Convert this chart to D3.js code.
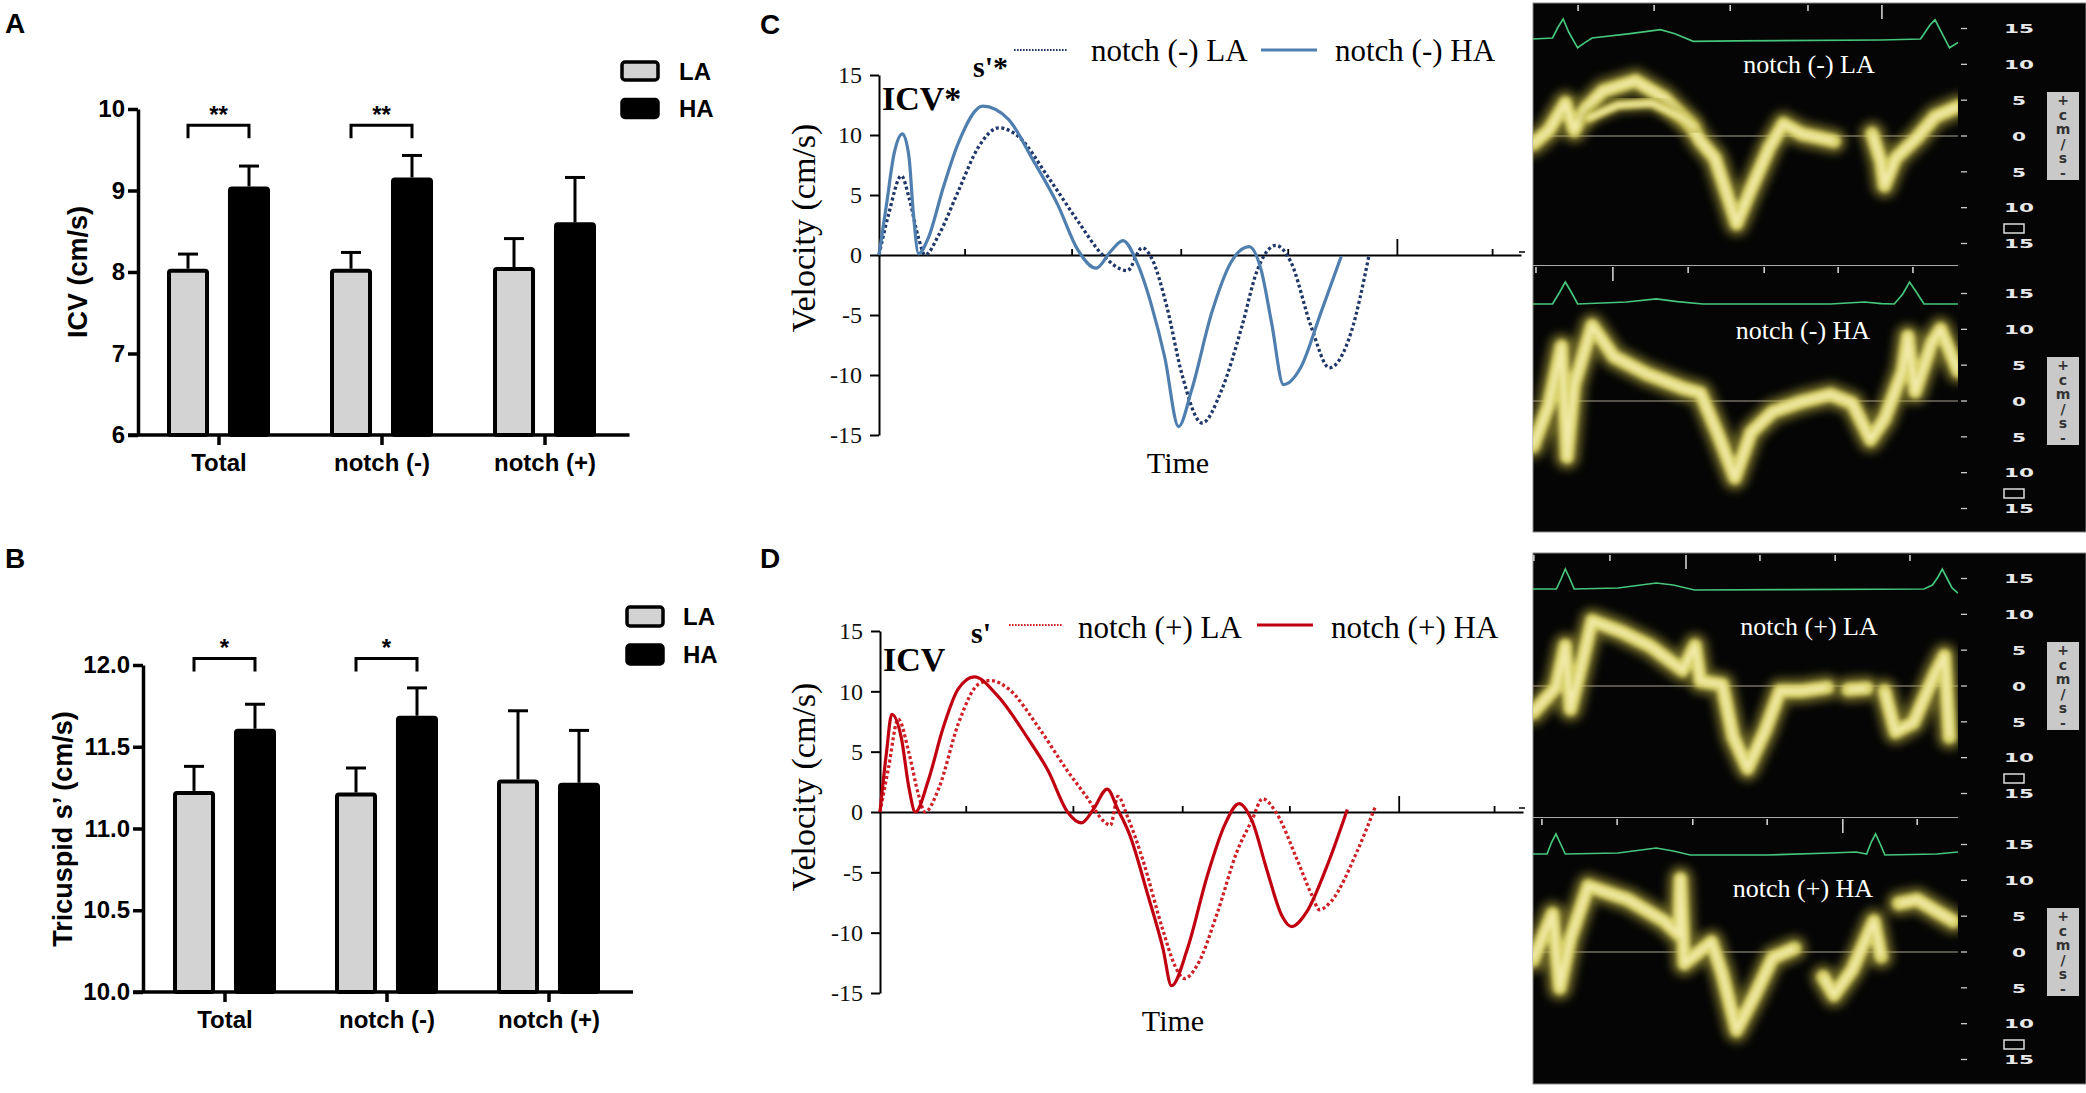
<!DOCTYPE html>
<html><head><meta charset="utf-8">
<script src="https://cdn.jsdelivr.net/npm/d3@7"></script>
<style>
html,body{margin:0;padding:0;background:#fff;}
svg{display:block;}
</style></head>
<body>
<svg id="fig" width="2086" height="1093"></svg>
<script>
// ================= DATA =================
const groups = ["Total", "notch (-)", "notch (+)"];
const seriesNames = ["LA", "HA"];

// Panel A : ICV (cm/s), mean and SEM
const icvTicks = [6, 7, 8, 9, 10];
const icvLA = [8.04, 8.04, 8.06];
const icvLAsem = [0.18, 0.20, 0.35];
const icvHA = [9.05, 9.16, 8.61];
const icvHAsem = [0.25, 0.27, 0.55];
const icvSig = [{group: "Total", label: "**"}, {group: "notch (-)", label: "**"}];
const icvSigLevels = [9.80, 9.64];

// Panel B : Tricuspid s' (cm/s)
const sTicks = [10.0, 10.5, 11.0, 11.5, 12.0];
const sLA = [11.23, 11.22, 11.30];
const sLAsem = [0.15, 0.15, 0.42];
const sHA = [11.61, 11.69, 11.28];
const sHAsem = [0.15, 0.17, 0.32];
const sSig = [{group: "Total", label: "*"}, {group: "notch (-)", label: "*"}];
const sSigLevels = [12.04, 11.96];

// Panels C / D : velocity curves [time, velocity cm/s]
const velTicks = [-15, -10, -5, 0, 5, 10, 15];
const timeTicks = [80, 180, 282, 382, 484, 573];
const timeTallTick = 484;

const negHA = [[0,0],[7,4.2],[14,8.4],[22,10.1],[28,8.2],[32,3.6],[37,0.1],[46,1.4],[60,5.6],[74,9.3],[97,12.4],[121,11.3],[144,7.9],[167,4.2],[186,0.4],[203,-1.1],[216,0.25],[228,1.2],[241,-0.6],[255,-4.3],[267,-8.5],[280,-14.3],[292,-11.3],[311,-4.8],[329,-0.6],[346,0.7],[357,-1.2],[367,-5.7],[378,-10.8],[394,-9.4],[413,-4.8],[432,-0.1]];
const negLA = [[0,0],[9,3.4],[21,6.6],[28,4.8],[37,1.4],[43,0],[56,1.7],[74,5.3],[93,9],[112,10.6],[130,9.9],[158,6.5],[186,2.8],[209,0],[232,-1.3],[246,0.6],[255,-0.3],[269,-4.3],[283,-9.9],[302,-14.0],[320,-11.3],[339,-6],[353,-1.4],[371,0.8],[385,-0.6],[404,-6],[421,-9.4],[441,-6.5],[458,0]];
const posHA = [[0,0],[6,4.9],[11,8.1],[20,6.1],[27,2],[33,0],[45,2.6],[59,7],[73,10.2],[88,11.2],[110,9.6],[138,6.1],[157,3.4],[175,0],[188,-0.9],[199,0.2],[212,1.9],[222,0.2],[233,-1.9],[250,-6.9],[264,-11.3],[272,-14.4],[287,-11.3],[305,-5.4],[322,-1],[335,0.7],[347,-0.7],[361,-4.8],[375,-8.6],[384,-9.5],[398,-8.3],[417,-4.5],[436,0.2]];
const posLA = [[0,0],[8,3.7],[17,7.7],[27,4.9],[36,1.4],[42,0],[55,2],[73,7.3],[92,10.6],[103,10.9],[120,10.2],[148,7],[175,3.4],[194,1.1],[208,-0.7],[215,-1.1],[222,1.3],[231,-0.4],[245,-3.9],[264,-9.8],[275,-12.7],[284,-13.8],[296,-12.7],[315,-8.3],[333,-3.3],[347,-0.7],[357,1.1],[370,-0.1],[389,-3.9],[403,-6.9],[410,-8.1],[421,-7.4],[445,-3.3],[462,0.4]];

// Doppler tissue images: [time %, velocity cm/s], null = gap in trace
const dopScaleTicks = [15, 10, 5, 0, -5, -10, -15];
const dopUnit = "+cm/s-";
const dopNegLA = [[0,-1.1],[3.7,0.8],[7.6,4.6],[9.7,0.8],[12.2,3.7],[16.5,6.3],[24.1,7.7],[30.9,5.3],[36.9,1.7],[39.4,-0.7],[42.8,-3.1],[45.8,-8.4],[47.9,-12.2],[51.3,-7.4],[55.6,-1.6],[58.9,1.7],[63.2,0.3],[70.8,-0.7],null,[79.8,0.3],[81.9,-3.6],[82.7,-6.9],[85.3,-3.1],[90.4,-0.2],[94.6,2.7],[100,4.1]];
const dopNegLA2 = [[13,2.5],[20,4.3],[28,4.6],[35,2.6],[38,1.2]];
const dopNegHA = [[0,-6.3],[3.7,-0.6],[6.7,7.6],[8,-7.8],[9.7,2.3],[13.9,10.5],[19,6.2],[26.7,3.8],[35.2,1.8],[39.4,1.1],[43.7,-4.9],[47.5,-10.7],[51.3,-4.4],[56.4,-1.5],[63.2,-0.1],[70,0.9],[75.1,-0.3],[79.4,-5.4],[82.7,-2.5],[87,4.2],[88.2,9.0],[89.9,1.3],[93.8,8.1],[95.9,10],[100,4.2]];
const dopPosLA = [[0,-3.7],[5.4,-0.2],[7.6,5.6],[8.8,-3.2],[10.9,1.7],[13.9,9.1],[20.7,7.6],[27.5,5.6],[35.2,2.2],[38.1,5.6],[39.4,0.7],[44.5,0.2],[47.1,-7.1],[50.5,-11.5],[54.7,-6.1],[58.1,-0.7],[63.2,-0.7],[69.2,-0.2],null,[74.2,-0.5],[78.5,-0.3],null,[82.7,-0.7],[85.3,-6.4],[89.5,-5.1],[94.6,1.7],[96.8,4.2],[98,-7.1]];
const dopPosHA = [[0,-1.1],[4.6,5.3],[6.3,-5.0],[8.8,1.9],[13,9.2],[22.4,7.3],[30.9,4.3],[34.3,2.4],[34.7,10.2],[35.6,-1.6],[42,1.4],[44.5,-3],[47.9,-10.9],[52.2,-6],[56.4,-0.8],[61.5,0.5],null,[68.3,-3.5],[70.8,-6],[75.1,-2.5],[80.2,4.3],[81.9,-0.6],null,[86.1,6.8],[90.4,7.3],[94.6,5.8],[98.9,4.3]];

// ECG traces [time %, amplitude]
const ecgNegLA = [[0,0],[4.6,0.05],[5.9,0.6],[7.1,1.0],[8.4,0.35],[10.5,-0.44],[12.2,-0.18],[13.9,0.05],[22.4,0.26],[30,0.47],[33.4,0.26],[37.7,-0.12],[47.9,-0.09],[81.9,-0.05],[91.2,0],[93.4,0.7],[94.6,0.96],[96.3,0.26],[98,-0.44],[100,-0.18]];
const ecgNegHA = [[0,0],[4.6,0],[6.3,0.6],[7.6,1.1],[9,0.6],[10.5,0],[22,0.1],[29,0.26],[34,0.12],[40,0],[70,0],[78,0.1],[82,0.02],[85,0],[87,0.5],[88.6,1.1],[90.5,0.5],[92,0],[100,0]];
const ecgPosLA = [[0,0],[5.5,0],[6.6,0.5],[7.6,1.0],[8.7,0.5],[9.7,0],[20,0.05],[29,0.3],[33,0.2],[38,-0.05],[60,-0.03],[92,0],[94,0.2],[95.3,0.6],[96.3,1.0],[97.5,0.5],[98.6,0.05],[100,-0.2]];
const ecgPosHA = [[0,0],[3.3,0],[4.4,0.6],[5.4,1.0],[6.5,0.5],[7.6,0],[20,0.05],[29,0.3],[33,0.15],[37,-0.05],[55,-0.05],[70,0.05],[76,0.1],[78.5,0],[79.6,0.6],[80.6,1.0],[81.7,0.5],[82.8,-0.05],[95,0],[100,0.1]];

// time marks along top of each image (time %)
const marksNegLA = [10.6, 28.5, 46.4, 64.7, 82.1];
const marksNegHA = [0.7, 18.8, 36.5, 54.4, 71.8, 89.4];
const marksPosLA = [0.2, 18.1, 36.0, 53.4, 71.1, 88.7];
const marksPosHA = [2.1, 19.8, 37.6, 55.1, 72.9, 90.4];

// ================= DRAWING =================
const svg = d3.select("#fig");
const SANS = "'Liberation Sans', Arial, Helvetica, sans-serif";
const SERIF = "'Liberation Serif', 'Times New Roman', Times, serif";
svg.append("rect").attr("width", 2086).attr("height", 1093).attr("fill", "#fff");

[["A", 5, 33], ["B", 5, 568], ["C", 760, 34], ["D", 760, 568]].forEach(([t, x, y]) => {
  svg.append("text").attr("x", x).attr("y", y).text(t)
    .attr("font-family", SANS).attr("font-weight", "bold").attr("font-size", 28).attr("fill", "#000");
});

function drawBarPanel(p) {
  const g = svg.append("g");
  const y = d3.scaleLinear().domain(p.yDomain).range(p.yRange);
  const x = d3.scaleBand().domain(groups).range(p.bandRange).paddingInner(0).paddingOuter(0);
  const sub = d3.scaleBand().domain(seriesNames).range([-52, 51]).paddingInner(0.311);
  const bw = sub.bandwidth();
  const y0 = y(p.yDomain[0]);
  const vals = {LA: p.la, HA: p.ha}, sems = {LA: p.laSem, HA: p.haSem};
  const fills = {LA: "#d3d3d3", HA: "#000"};
  const rows = groups.flatMap((gn, i) => seriesNames.map(s => ({g: gn, s, v: vals[s][i], e: sems[s][i]})));
  const cx = d => x(d.g) + x.bandwidth() / 2 + sub(d.s) + bw / 2;

  g.selectAll(".err").data(rows).join("line")
    .attr("x1", cx).attr("x2", cx).attr("y1", d => y(d.v)).attr("y2", d => y(d.v + d.e))
    .attr("stroke", "#000").attr("stroke-width", 3);
  g.selectAll(".cap").data(rows).join("line")
    .attr("x1", d => cx(d) - 10).attr("x2", d => cx(d) + 10)
    .attr("y1", d => y(d.v + d.e)).attr("y2", d => y(d.v + d.e))
    .attr("stroke", "#000").attr("stroke-width", 3);
  g.selectAll(".bar").data(rows).join("rect")
    .attr("x", d => cx(d) - bw / 2 + 2).attr("width", bw - 4)
    .attr("y", d => y(d.v) + 2).attr("height", d => y0 - y(d.v) - 2)
    .attr("rx", 2).attr("fill", d => fills[d.s]).attr("stroke", "#000").attr("stroke-width", 4);

  const ya = g.append("g").attr("transform", `translate(${p.axisX},0)`)
    .call(d3.axisLeft(y).tickValues(p.ticks).tickSize(10).tickSizeOuter(0).tickPadding(3).tickFormat(p.fmt));
  ya.select(".domain").attr("stroke-width", 3.5);
  ya.selectAll(".tick line").attr("stroke-width", 3.5);
  ya.selectAll(".tick text").attr("font-family", SANS).attr("font-weight", "bold").attr("font-size", 24).attr("fill", "#000");

  const xa = g.append("g").attr("transform", `translate(0,${y0})`)
    .call(d3.axisBottom(x).tickSize(10).tickSizeOuter(0).tickPadding(9));
  xa.select(".domain").remove();
  xa.selectAll(".tick line").attr("stroke-width", 3.5);
  xa.selectAll(".tick text").attr("font-family", SANS).attr("font-weight", "bold").attr("font-size", 24).attr("fill", "#000");
  g.append("line").attr("x1", p.axisX - 10).attr("x2", p.bandRange[1] + 3)
    .attr("y1", y0).attr("y2", y0).attr("stroke", "#000").attr("stroke-width", 3.5);

  p.sig.forEach(s => {
    const x1 = x(s.group) + x.bandwidth() / 2 + sub("LA") + bw / 2;
    const x2 = x(s.group) + x.bandwidth() / 2 + sub("HA") + bw / 2;
    const yt = y(p.sigLevels[0]), yb = y(p.sigLevels[1]);
    g.append("path").attr("d", `M${x1},${yb}V${yt}H${x2}V${yb}`)
      .attr("fill", "none").attr("stroke", "#000").attr("stroke-width", 3);
    g.append("text").attr("x", (x1 + x2) / 2).attr("y", yt - 2).attr("text-anchor", "middle")
      .attr("font-family", SANS).attr("font-weight", "bold").attr("font-size", 24).text(s.label);
  });

  seriesNames.forEach((s, i) => {
    const ly = p.legend.ys[i];
    g.append("rect").attr("x", p.legend.x).attr("y", ly - p.legend.h / 2).attr("width", 36).attr("height", p.legend.h)
      .attr("rx", 3).attr("fill", fills[s]).attr("stroke", "#000").attr("stroke-width", 3.5);
    g.append("text").attr("x", p.legend.tx).attr("y", ly + 8.5).text(s)
      .attr("font-family", SANS).attr("font-weight", "bold").attr("font-size", 24);
  });

  g.append("text").attr("transform", `translate(${p.ylabelX},${p.ylabelY}) rotate(-90)`)
    .attr("text-anchor", "middle").attr("font-family", SANS).attr("font-weight", "bold")
    .attr("font-size", 27).text(p.ylabel);
}

drawBarPanel({
  yDomain: [6, 10], yRange: [435, 109], bandRange: [137.5, 626.5], axisX: 138,
  ticks: icvTicks, fmt: d3.format("d"),
  la: icvLA, laSem: icvLAsem, ha: icvHA, haSem: icvHAsem,
  sig: icvSig, sigLevels: icvSigLevels,
  legend: {x: 622, tx: 679, ys: [71, 108.5], h: 18},
  ylabel: "ICV (cm/s)", ylabelX: 87, ylabelY: 272
});

drawBarPanel({
  yDomain: [10, 12], yRange: [992, 665], bandRange: [144, 630], axisX: 143,
  ticks: sTicks, fmt: d3.format(".1f"),
  la: sLA, laSem: sLAsem, ha: sHA, haSem: sHAsem,
  sig: sSig, sigLevels: sSigLevels,
  legend: {x: 627, tx: 683, ys: [616.5, 654.5], h: 19},
  ylabel: "Tricuspid s\u2019 (cm/s)", ylabelX: 72, ylabelY: 829
});

function drawLinePanel(p) {
  const g = svg.append("g");
  const x = d3.scaleLinear().domain([0, 600]).range(p.xRange);
  const y = d3.scaleLinear().domain([-15, 15]).range(p.yRange);

  const ya = g.append("g").attr("transform", `translate(${p.xRange[0]},0)`)
    .call(d3.axisLeft(y).tickValues(velTicks).tickSize(9).tickSizeOuter(0).tickPadding(8).tickFormat(d => String(d)));
  ya.select(".domain").attr("stroke-width", 2);
  ya.selectAll(".tick line").attr("stroke-width", 2);
  ya.selectAll(".tick text").attr("font-family", SERIF).attr("font-size", 24).attr("fill", "#111");

  const xa = g.append("g").attr("transform", `translate(0,${y(0)})`)
    .call(d3.axisTop(x).tickValues(timeTicks).tickSize(6).tickSizeOuter(0).tickFormat(""));
  xa.select(".domain").attr("stroke-width", 2);
  xa.selectAll(".tick line").attr("stroke-width", 1.8).filter(d => d === timeTallTick).attr("y2", -16);

  const line = d3.line().x(d => x(d[0])).y(d => y(d[1])).curve(d3.curveMonotoneX);
  g.append("path").datum(p.la).attr("d", line).attr("fill", "none")
    .attr("stroke", p.laColor).attr("stroke-width", 3.3).attr("stroke-dasharray", "3 2.6");
  g.append("path").datum(p.ha).attr("d", line).attr("fill", "none")
    .attr("stroke", p.haColor).attr("stroke-width", 3.2);

  const L = p.legend;
  g.append("line").attr("x1", L.x1).attr("x2", L.x1 + 54).attr("y1", L.y).attr("y2", L.y)
    .attr("stroke", p.laColor).attr("stroke-width", 2.2).attr("stroke-dasharray", "1.6 1.4");
  g.append("text").attr("x", L.t1).attr("y", L.ty).text(L.n1).attr("font-family", SERIF).attr("font-size", 31);
  g.append("line").attr("x1", L.x2).attr("x2", L.x2 + 56).attr("y1", L.y).attr("y2", L.y)
    .attr("stroke", p.haColor).attr("stroke-width", 3);
  g.append("text").attr("x", L.t2).attr("y", L.ty).text(L.n2).attr("font-family", SERIF).attr("font-size", 31);

  g.append("text").attr("x", p.icv.x).attr("y", p.icv.y).text(p.icv.t)
    .attr("font-family", SERIF).attr("font-weight", "bold").attr("font-size", 34);
  g.append("text").attr("x", p.sp.x).attr("y", p.sp.y).text(p.sp.t)
    .attr("font-family", SERIF).attr("font-weight", "bold").attr("font-size", 30);

  g.append("text").attr("x", p.timeX).attr("y", p.timeY).attr("text-anchor", "middle")
    .attr("font-family", SERIF).attr("font-size", 30).text("Time");
  g.append("text").attr("transform", `translate(815,${p.vlabelY}) rotate(-90)`)
    .attr("text-anchor", "middle").attr("font-family", SERIF).attr("font-size", 34).text("Velocity (cm/s)");
}

drawLinePanel({
  xRange: [879, 1521], yRange: [435, 75], la: negLA, ha: negHA,
  laColor: "#1e3668", haColor: "#4f7faf",
  legend: {x1: 1014, t1: 1091, x2: 1261, t2: 1335, y: 50, ty: 61, n1: "notch (-) LA", n2: "notch (-) HA"},
  icv: {x: 882, y: 110, t: "ICV*"}, sp: {x: 973, y: 77, t: "s'*"},
  timeX: 1178, timeY: 473, vlabelY: 228
});

drawLinePanel({
  xRange: [880, 1523], yRange: [993, 631], la: posLA, ha: posHA,
  laColor: "#cf2027", haColor: "#c00010",
  legend: {x1: 1009, t1: 1078, x2: 1257, t2: 1331, y: 625, ty: 638, n1: "notch (+) LA", n2: "notch (+) HA"},
  icv: {x: 883, y: 671, t: "ICV"}, sp: {x: 971, y: 643, t: "s'"},
  timeX: 1173, timeY: 1031, vlabelY: 787
});

// ---------- Doppler tissue images ----------
const defs = svg.append("defs");
defs.append("filter").attr("id", "bl4").attr("x", "-10%").attr("y", "-20%").attr("width", "120%").attr("height", "140%")
  .append("feGaussianBlur").attr("stdDeviation", 4);
defs.append("filter").attr("id", "bl2").attr("x", "-10%").attr("y", "-20%").attr("width", "120%").attr("height", "140%")
  .append("feGaussianBlur").attr("stdDeviation", 2);

[[3, 529], [553, 531]].forEach(([top, h]) => {
  svg.append("rect").attr("x", 1533).attr("y", top).attr("width", 553).attr("height", h)
    .attr("fill", "#050505").attr("stroke", "#888").attr("stroke-width", 1);
});
[252, 808].forEach(yy => svg.append("line").attr("x1", 1519).attr("x2", 1525).attr("y1", yy).attr("y2", yy)
  .attr("stroke", "#000").attr("stroke-width", 1.5));

const dopX = d3.scaleLinear().domain([0, 100]).range([1533, 1958]);
const dopImages = [
  {top: 3, bottom: 264, zero: 136, ecgBase: 39, label: "notch (-) LA", lx: 1809, ly: 73, trace: dopNegLA, extra: dopNegLA2, ecg: ecgNegLA, marks: marksNegLA, tall: 82.1},
  {top: 265, bottom: 532, zero: 401, ecgBase: 304, label: "notch (-) HA", lx: 1803, ly: 339, trace: dopNegHA, extra: null, ecg: ecgNegHA, marks: marksNegHA, tall: 18.8},
  {top: 553, bottom: 816, zero: 686, ecgBase: 589, label: "notch (+) LA", lx: 1809, ly: 635, trace: dopPosLA, extra: null, ecg: ecgPosLA, marks: marksPosLA, tall: 36.0},
  {top: 817, bottom: 1084, zero: 952, ecgBase: 854, label: "notch (+) HA", lx: 1803, ly: 897, trace: dopPosHA, extra: null, ecg: ecgPosHA, marks: marksPosHA, tall: 72.9}
];

dopImages.forEach((im, k) => {
  const g = svg.append("g");
  const y = d3.scaleLinear().domain([-15, 15]).range([im.zero + 107.5, im.zero - 107.5]);
  const cid = "clip" + k;
  defs.append("clipPath").attr("id", cid).append("rect")
    .attr("x", 1533).attr("y", im.top).attr("width", 425).attr("height", im.bottom - im.top);
  const gc = g.append("g").attr("clip-path", `url(#${cid})`);

  if (k === 1 || k === 3) {
    g.append("line").attr("x1", 1533).attr("x2", 1958).attr("y1", im.top + 0.5).attr("y2", im.top + 0.5)
      .attr("stroke", "#aaa").attr("stroke-width", 1);
  }
  gc.append("line").attr("x1", 1533).attr("x2", 1958).attr("y1", im.zero).attr("y2", im.zero)
    .attr("stroke", "#a8a294").attr("stroke-width", 1.2);

  const line = d3.line().defined(d => d !== null).x(d => dopX(d[0])).y(d => y(d[1]));
  const traces = [im.trace].concat(im.extra ? [im.extra] : []);
  traces.forEach((tr, j) => {
    const sc = j === 0 ? 1 : 0.6;
    gc.append("path").datum(tr).attr("d", line).attr("fill", "none").attr("stroke", "#a89e38")
      .attr("stroke-width", 26 * sc).attr("stroke-linejoin", "round").attr("stroke-linecap", "round")
      .attr("opacity", 0.6).attr("filter", "url(#bl4)");
    gc.append("path").datum(tr).attr("d", line).attr("fill", "none").attr("stroke", "#d9d16a")
      .attr("stroke-width", 14 * sc).attr("stroke-linejoin", "round").attr("stroke-linecap", "round")
      .attr("filter", "url(#bl2)");
    gc.append("path").datum(tr).attr("d", line).attr("fill", "none").attr("stroke", "#fbf6c4")
      .attr("stroke-width", 5 * sc).attr("stroke-linejoin", "round").attr("opacity", 0.7)
      .attr("filter", "url(#bl2)");
  });

  const ecgLine = d3.line().x(d => dopX(d[0])).y(d => im.ecgBase - d[1] * 20);
  gc.append("path").datum(im.ecg).attr("d", ecgLine).attr("fill", "none")
    .attr("stroke", "#46c67c").attr("stroke-width", 1.7);

  gc.selectAll(".mk").data(im.marks).join("line")
    .attr("x1", d => dopX(d)).attr("x2", d => dopX(d))
    .attr("y1", im.top + 2).attr("y2", d => im.top + (d === im.tall ? 16 : 8))
    .attr("stroke", "#ddd").attr("stroke-width", 1.5);

  g.append("text").attr("x", im.lx).attr("y", im.ly).attr("text-anchor", "middle")
    .attr("font-family", SERIF).attr("font-size", 26).attr("fill", "#fff").text(im.label);

  g.selectAll(".sd").data(dopScaleTicks).join("line")
    .attr("x1", 1961).attr("x2", 1967).attr("y1", d => y(d)).attr("y2", d => y(d))
    .attr("stroke", "#ccc").attr("stroke-width", 1.3);
  g.selectAll(".sl").data(dopScaleTicks).join("text")
    .attr("x", d => 2020 - String(Math.abs(d)).length * 8).attr("y", d => y(d)).attr("dy", "0.36em")
    .attr("textLength", d => String(Math.abs(d)).length * 16 - 2).attr("lengthAdjust", "spacingAndGlyphs")
    .attr("font-family", "'DejaVu Sans', sans-serif").attr("font-weight", "bold").attr("font-size", 13).attr("fill", "#e8e8e8")
    .text(d => Math.abs(d));
  g.append("rect").attr("x", 2004).attr("y", im.zero + 88).attr("width", 20).attr("height", 9)
    .attr("fill", "none").attr("stroke", "#ddd").attr("stroke-width", 1.5);
  g.append("rect").attr("x", 2047).attr("y", im.zero - 44).attr("width", 32).attr("height", 88).attr("fill", "#c9c9c9");
  const ut = g.append("text").attr("text-anchor", "middle")
    .attr("font-family", "'DejaVu Sans', sans-serif").attr("font-weight", "bold").attr("font-size", 14).attr("fill", "#333");
  ut.selectAll("tspan").data(dopUnit.split("")).join("tspan")
    .attr("x", 2063).attr("y", (d, i) => im.zero - 31 + i * 14.5).text(d => d);
});
</script>
</body></html>
